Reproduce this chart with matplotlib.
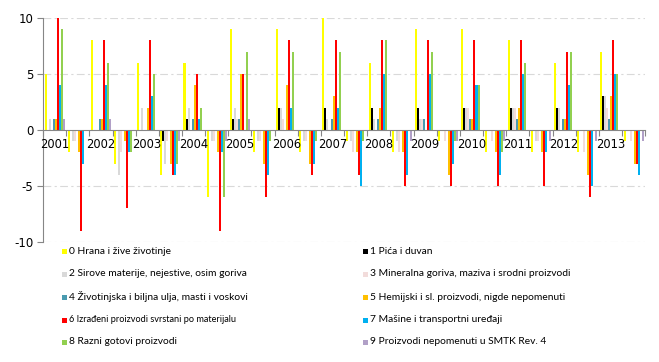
import matplotlib.pyplot as plt
from matplotlib.patches import Rectangle
import numpy as np

plt.rcParams['font.family'] = ['Lato', 'DejaVu Sans']
plt.rcParams['axes.unicode_minus'] = False

# ---------------- Data ----------------
years = [2001, 2002, 2003, 2004, 2005, 2006, 2007, 2008, 2009, 2010, 2011, 2012, 2013]

# each year: (positive value, negative value)
s0 = [5, -2, 8, -3, 6, -4, 6, -6, 9, -2, 9, -2, 10, -1, 6, -2, 9, -1, 9, -2, 8, -2, 6, -2, 7, -1]
s1 = [0, 0, 0, 0, 0, -1, 1, 0, 1, 0, 2, 0, 2, 0, 2, 0, 2, 0, 2, 0, 2, 0, 2, 0, 3, 0]
s2 = [1, -1, 0, -4, 2, -3, 2, -1, 2, -1, 2, -1, 1, -1, 1, -1, 1, 0, 2, 0, 2, -1, 2, 0, 3, 0]
s3 = [0, -1, 0, -2, 0, -1, 0, -1, 1, -1, 1, -1, 0, -2, 0, -2, 1, -1, 2, -1, 2, -1, 0, -2, 2, -1]
s4 = [1, 0, 1, 0, 0, 0, 1, 0, 1, 0, 0, 0, 1, 0, 1, 0, 1, 0, 1, 0, 1, 0, 1, 0, 1, 0]
s5 = [1, -2, 1, -1, 2, -3, 4, -2, 5, -3, 4, -3, 3, -2, 2, -2, 0, -4, 1, -2, 2, -2, 1, -4, 3, -3]
s6 = [10, -9, 8, -7, 8, -4, 5, -9, 5, -6, 8, -4, 8, -4, 8, -5, 8, -5, 8, -5, 8, -5, 7, -6, 8, -3]
s7 = [4, -3, 4, -2, 3, -4, 1, -2, 0, -4, 2, -3, 2, -5, 5, -4, 5, -3, 4, -4, 5, -2, 4, -5, 5, -4]
s8 = [9, 0, 6, -2, 5, -3, 2, -6, 7, -1, 7, -1, 7, -1, 8, 0, 7, -1, 4, -2, 6, 0, 7, 0, 5, 0]
s9 = [1, 0, 1, 0, 0, -1, 0, -1, 1, 0, 0, 0, 0, 0, 0, -1, 0, -1, 0, -1, 0, -1, 0, -1, 0, -1]
series = [s0, s1, s2, s3, s4, s5, s6, s7, s8, s9]

labels = [
    "0 Hrana i žive životinje",
    "1 Pića i duvan",
    "2 Sirove materije, nejestive, osim goriva",
    "3 Mineralna goriva, maziva i srodni proizvodi",
    "4 Životinjska i biljna ulja, masti i voskovi",
    "5 Hemijski i sl. proizvodi, nigde nepomenuti",
    "6 Izrađeni proizvodi svrstani po materijalu",
    "7 Mašine i transportni uređaji",
    "8 Razni gotovi proizvodi",
    "9 Proizvodi nepomenuti u SMTK Rev. 4",
]
colors = ["#FFFF00", "#000000", "#D9D9D9", "#F2DCDB", "#4A9BB0",
          "#FFC000", "#FF0000", "#00B0F0", "#92D050", "#B1A0C7"]

# ---------------- Plot ----------------
fig = plt.figure(figsize=(6.59, 3.62), dpi=100)
ax = fig.add_axes([0.0653, 0.3315, 0.9137, 0.6188])

n_cat = len(s0)
x = np.arange(n_cat)
w = 0.087
for k, vals in enumerate(series):
    ax.bar(x + (k - 4.5) * w, vals, width=w, color=colors[k], linewidth=0)

ax.set_xlim(-0.5, n_cat - 0.5)
ax.set_ylim(-10, 10)
ax.set_yticks([-10, -5, 0, 5, 10])
for v in [-10, -5, 5, 10]:
    ax.axhline(v, color="#D9D9D9", lw=0.8, ls=(0, (7, 3, 2, 3)), zorder=0)

for s in ["top", "right"]:
    ax.spines[s].set_visible(False)
ax.spines["left"].set_color("#868686")
ax.spines["bottom"].set_color("#868686")
ax.spines["bottom"].set_position(("data", 0))
ax.spines["bottom"].set_zorder(3)

ax.set_xticks(np.arange(n_cat + 1) - 0.5)
ax.set_xticklabels([])
ax.tick_params(axis="x", direction="out", length=4, color="#868686")
ax.tick_params(axis="y", direction="out", length=4, color="#868686",
               labelsize=8.5, pad=3)
for t in ax.get_yticklabels():
    t.set_family("DejaVu Sans")

for i, yr in enumerate(years):
    ax.text(2 * i, -0.7, str(yr), ha="center", va="top", fontsize=8.3,
            family="DejaVu Sans")

# ---------------- Legend ----------------
col_x = [62 / 659, 363 / 659]
row_y = [251, 274, 297, 320, 342]
for k, lab in enumerate(labels):
    cx = col_x[k % 2]
    cy = 1 - row_y[k // 2] / 362
    fig.add_artist(Rectangle((cx, cy - 2.5 / 362), 5 / 659, 5 / 362,
                             transform=fig.transFigure, color=colors[k], lw=0))
    fs = 6.6 if k == 6 else 7.4
    fig.text(cx + 7 / 659, cy, lab, fontsize=fs, va="center", ha="left")

fig.savefig("out.png", dpi=100)
